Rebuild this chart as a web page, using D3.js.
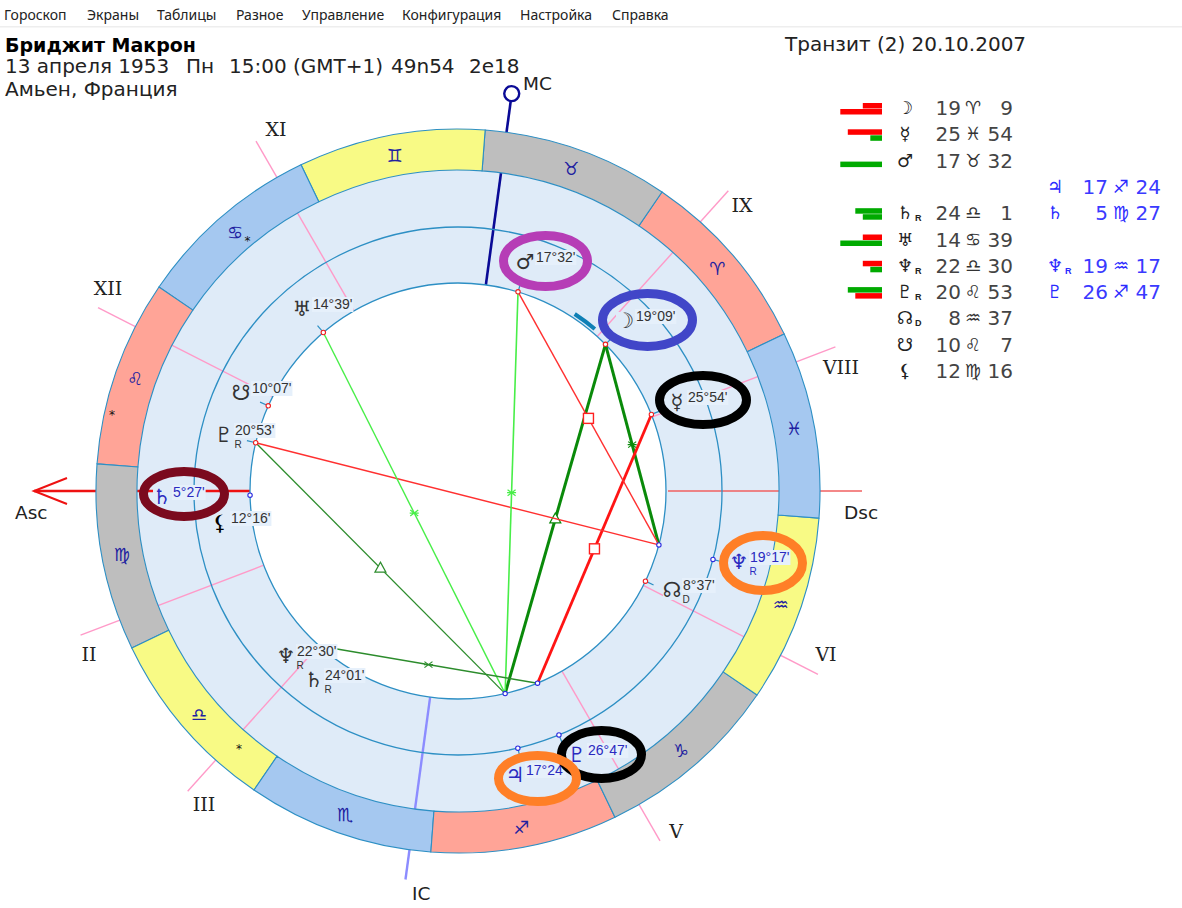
<!DOCTYPE html>
<html><head><meta charset="utf-8">
<style>html,body{margin:0;padding:0;background:#fff}svg{display:block}text{font-family:"DejaVu Sans";white-space:pre}</style>
<script src="https://cdn.jsdelivr.net/npm/d3@7"></script></head><body>
<svg id="c" width="1182" height="908"></svg>
<script>
// ---------- data ----------
const menuItems=["Гороскоп","Экраны","Таблицы","Разное","Управление","Конфигурация","Настройка","Справка"];
const titleName="Бриджит Макрон";
const titleBirthParts=["13 апреля 1953","Пн","15:00 (GMT+1)","49n54","2e18"];
const titlePlace="Амьен, Франция";
const titleTransit="Транзит (2) 20.10.2007";
const ascLon=154.3;
const signGlyphs=["♈","♉","♊","♋","♌","♍","♎","♏","♐","♑","♒","♓"];
const signElements=["fire","earth","air","water","fire","earth","air","water","fire","earth","air","water"];
const signStarLons=[104.1,141.4,203.6];
const cuspNames=["VIII","IX","XI","XII","II","III","V","VI"];
const cuspLons=[355.2,22.3,94.3,127.3,175.2,202.3,274.3,307.3];
const mcLon=56.6, icLon=236.6, dscLon=334.3;
const natalIds=["moon","mercury","mars","saturn","uranus","neptune","pluto","node","snode","lilith"];
const natalLons=[19.15,355.9,47.53,204.02,104.65,202.5,140.88,308.62,130.12,162.27];
const natalLabels=["19°09'","25°54'","17°32'","24°01'","14°39'","22°30'","20°53'","8°37'","10°07'","12°16'"];
const transitIds=["jupiter","saturn","neptune","pluto"];
const transitLons=[257.4,155.45,319.28,266.78];
const transitLabels=["17°24'","5°27'","19°17'","26°47'"];
const aspectFrom=["moon","moon","mercury","mars","pluto","pluto","uranus","mars","neptune"];
const aspectTo=["jupiter","neptune","pluto","neptune","neptune","jupiter","jupiter","jupiter","pluto"];
const aspectKind=["trineStrong","sextileStrong","squareStrong","square","opposition","trine","sextileLight","sextileLightStar","sextile"];
const tableGlyphs=["☽","☿","♂","","♄","♅","♆","♇","☊","☋","⚸"];
const tableFlags=["","","","","R","","R","R","D","",""];
const tableDeg=[19,25,17,null,24,14,22,20,8,10,12];
const tableSign=[0,11,1,null,6,3,6,4,10,4,5];
const tableMin=[9,54,32,null,1,39,30,53,37,7,16];
const tGlyphs=["","","","♃","♄","","♆","♇","","",""];
const tFlags=["","","","","","","R","","","",""];
const tDeg=[null,null,null,17,5,null,19,26,null,null,null];
const tSign=[null,null,null,8,5,null,10,8,null,null,null];
const tMin=[null,null,null,24,27,null,17,47,null,null,null];
const barTop=[["r",2],["r",4],null,null,["g",3],["r",2],["r",2],["g",4]];
const barBottom=[["r",5],["g",1],["g",5],null,["g",2],["g",5],["g",1],["r",3]];
const shadedArcLons=[24.1,30.9];

// ---------- layout / style ----------
const cx=458,cy=491;
const rInner=208,rMid=264,rRing=321,rOuter=362;
const svg=d3.select("#c");
const blue="#2D8FC4";
const ringFill="#DFEBF8";
const elementColor={fire:"#FFA497",earth:"#BEBEBE",air:"#F8FA85",water:"#A5C8F0"};
const toAngle=d3.scaleLinear().domain([0,360]).range([(ascLon-90)*Math.PI/180,(ascLon-90-360)*Math.PI/180]);
const pt=(lon,r)=>{const p=d3.pointRadial(toAngle(lon),r);return [cx+p[0],cy+p[1]];};
const chart=svg.append("g");

// menu
svg.append("rect").attr("x",0).attr("y",26).attr("width",1182).attr("height",1.5).attr("fill","#eee");
const menuX=[4,87,157,236,302,402,520,612];
svg.selectAll(".m").data(menuItems).join("text").attr("x",(d,i)=>menuX[i]).attr("y",20)
 .style("font-family","'Noto Sans'").attr("font-size",14).attr("fill","#222").text(d=>d);

// ring background
const arc=d3.arc();
chart.append("circle").attr("cx",cx).attr("cy",cy).attr("r",rRing).attr("fill",ringFill);
chart.append("circle").attr("cx",cx).attr("cy",cy).attr("r",rInner).attr("fill","#fff");

// house cusps
cuspLons.forEach(l=>{const a=pt(l,rInner),b=pt(l,404);
 chart.append("line").attr("x1",a[0]).attr("y1",a[1]).attr("x2",b[0]).attr("y2",b[1]).attr("stroke","#FF9AC8").attr("stroke-width",1.4);});
const axis=(l,r0,r1,col,w)=>{const a=pt(l,r0),b=pt(l,r1);
 chart.append("line").attr("x1",a[0]).attr("y1",a[1]).attr("x2",b[0]).attr("y2",b[1]).attr("stroke",col).attr("stroke-width",w);};
axis(mcLon,rInner,396,"#0A0A96",2.6);
axis(icLon,rInner,392,"#8C8CFF",2.4);
axis(ascLon,rInner,424,"#EE1111",2.6);
axis(dscLon,rInner+2,404,"#F06060",1.4);

// sign sectors
const signG=chart.append("g").attr("transform",`translate(${cx},${cy})`);
signGlyphs.forEach((g,i)=>{
 const a0=toAngle(i*30),a1=toAngle((i+1)*30);
 signG.append("path").attr("d",arc({innerRadius:rRing,outerRadius:rOuter,startAngle:a1,endAngle:a0}))
  .attr("fill",elementColor[signElements[i]]).attr("stroke",blue).attr("stroke-width",1.1);
});
// circles
[rInner,rMid].forEach(r=>chart.append("circle").attr("cx",cx).attr("cy",cy).attr("r",r).attr("fill","none").attr("stroke",blue).attr("stroke-width",1.3));
signGlyphs.forEach((g,i)=>{const p=pt(i*30+15,342);
 chart.append("text").attr("x",p[0]).attr("y",p[1]+7).attr("text-anchor","middle").attr("font-size",18).attr("fill","#2020A0").text(g);});
const starRadii=[329,355,336];
signStarLons.forEach((l,i)=>{const p=pt(l,starRadii[i]);
 chart.append("text").attr("x",p[0]).attr("y",p[1]+7).attr("text-anchor","middle").attr("font-size",12).attr("fill","#111").text("*");});
// shaded arc at the inner circle
signG.append("path").attr("d",arc({innerRadius:rInner+2,outerRadius:rInner+6,startAngle:toAngle(shadedArcLons[1]),endAngle:toAngle(shadedArcLons[0])})).attr("fill","#0E7FB5");

// markers at axes
const mc=pt(mcLon,401);
chart.append("circle").attr("cx",mc[0]).attr("cy",mc[1]).attr("r",7.5).attr("fill","#fff").attr("stroke","#0A0A96").attr("stroke-width",2.4);
const asc=pt(ascLon,424);
chart.append("path").attr("d",`M${asc[0]+33},${asc[1]-13}L${asc[0]},${asc[1]}L${asc[0]+33},${asc[1]+13}`).attr("fill","none").attr("stroke","#EE1111").attr("stroke-width",2);

// aspects
const natalPos=Object.fromEntries(natalIds.map((id,i)=>[id,pt(natalLons[i],rInner)]));
const transitPos=Object.fromEntries(transitIds.map((id,i)=>[id,pt(transitLons[i],rInner)]));
const kinds={
 trineStrong:{c:"#0A8A0A",w:3,m:"tri"},sextileStrong:{c:"#0A8A0A",w:3,m:"x"},
 squareStrong:{c:"#FF1414",w:2.8,m:"sq"},square:{c:"#FF3030",w:1.4,m:"sq"},
 opposition:{c:"#FF3030",w:1.4,m:null},trine:{c:"#2C8C2C",w:1.3,m:"tri"},
 sextile:{c:"#2C8C2C",w:1.4,m:"x"},sextileLight:{c:"#48EE48",w:1.4,m:"x"},sextileLightStar:{c:"#48EE48",w:1.6,m:"x"}};
aspectFrom.forEach((f,i)=>{
 const a=natalPos[f],b=transitPos[aspectTo[i]],k=kinds[aspectKind[i]];
 chart.append("line").attr("x1",a[0]).attr("y1",a[1]).attr("x2",b[0]).attr("y2",b[1]).attr("stroke",k.c).attr("stroke-width",k.w);
 const mx=(a[0]+b[0])/2,my=(a[1]+b[1])/2;
 if(k.m==="sq")chart.append("rect").attr("x",mx-5).attr("y",my-5).attr("width",10).attr("height",10).attr("fill","#fff").attr("stroke","#FF2020").attr("stroke-width",1.4);
 if(k.m==="tri")chart.append("path").attr("d",`M${mx},${my-6}L${mx+5.5},${my+4}L${mx-5.5},${my+4}Z`).attr("fill","#fff").attr("stroke",k.c).attr("stroke-width",1.2);
 if(k.m==="x")chart.append("path").attr("d",`M${mx-4},${my-3}L${mx+4},${my+3}M${mx-4},${my+3}L${mx+4},${my-3}M${mx-4.5},${my}L${mx+4.5},${my}`).attr("fill","none").attr("stroke",k.c).attr("stroke-width",1.2);
});

// planet labels
const glyphOf={moon:"☽",mercury:"☿",mars:"♂",saturn:"♄",uranus:"♅",neptune:"♆",pluto:"♇",node:"☊",snode:"☋",lilith:"⚸",jupiter:"♃"};
const natalSpots={moon:[636,321],mercury:[688,402],mars:[536,262],saturn:[325,680],uranus:[313,309],neptune:[297,656],pluto:[235,435],node:[683,590],snode:[252,393],lilith:[231,523]};
const natalFlag={neptune:"R",saturn:"R",pluto:"R",node:"D"};
const transitSpots={jupiter:[526,775],saturn:[173,497],neptune:[750,562],pluto:[588,755]};
const transitFlag={neptune:"R"};
const labelLayer=chart.append("g");
function placeLabel(id,lab,spot,flag,col,r0,lon){
 const m=pt(lon,r0),n=pt(lon,r0+9);
 labelLayer.append("line").attr("x1",m[0]).attr("y1",m[1]).attr("x2",n[0]).attr("y2",n[1]).attr("stroke",blue).attr("stroke-width",1.2);
 labelLayer.append("rect").attr("x",spot[0]-20).attr("y",spot[1]-9).attr("width",20).attr("height",19).attr("fill",ringFill);
 const r=labelLayer.append("rect");
 const t=labelLayer.append("text").attr("x",spot[0]).attr("y",spot[1]).style("font-family","'Liberation Sans'").attr("font-size",14).attr("fill",col).text(lab);
 const bb=t.node().getBBox();
 r.attr("x",bb.x-1).attr("y",bb.y+1).attr("width",bb.width+2).attr("height",bb.height-1).attr("fill","#E6F0FB");
 labelLayer.append("text").attr("x",spot[0]-11).attr("y",spot[1]+7).attr("text-anchor","middle").attr("font-size",21)
  .attr("font-weight",id==="lilith"?"bold":"normal").attr("fill",id==="lilith"?"#000":col).text(glyphOf[id]);
 if(flag)labelLayer.append("text").attr("x",spot[0]+3).attr("y",spot[1]+13).attr("text-anchor","middle").style("font-family","'Liberation Sans'").attr("font-size",10).attr("fill",col).text(flag);
}
natalIds.forEach((id,i)=>placeLabel(id,natalLabels[i],natalSpots[id],natalFlag[id],"#333",rInner,natalLons[i]));
transitIds.forEach((id,i)=>placeLabel(id,transitLabels[i],transitSpots[id],transitFlag[id],"#2A2AC0",rMid,transitLons[i]));
const dot=(p,c)=>labelLayer.append("circle").attr("cx",p[0]).attr("cy",p[1]).attr("r",2.2).attr("fill","#fff").attr("stroke",c).attr("stroke-width",1.1);
natalIds.forEach((id,i)=>{if(id!=="lilith"&&id!=="neptune"&&id!=="saturn")dot(natalPos[id],"#F02020");});
transitIds.forEach((id,i)=>{dot(transitPos[id],"#2A2AE0");if(id!=="saturn")dot(pt(transitLons[i],rMid),"#2A2AE0");});

// axis and house names
const romans=[["XI",276,136],["IX",742,212],["XII",108,295],["VIII",841,374],["II",89,661],["VI",826,661],["III",204,811],["V",676,838]];
svg.selectAll(".r").data(romans).join("text").attr("x",d=>d[1]).attr("y",d=>d[2]).attr("text-anchor","middle")
 .style("font-family","'DejaVu Serif'").attr("font-size",19).attr("fill","#222").text(d=>d[0]);
[["MC",523,90],["Asc",15,519],["Dsc",844,519],["IC",412,900]].forEach(d=>svg.append("text").attr("x",d[1]).attr("y",d[2]).attr("font-size",18.5).attr("fill","#222").text(d[0]));

// header
svg.append("text").attr("x",5).attr("y",52).attr("font-weight","bold").attr("font-size",19).attr("fill","#000").text(titleName);
const birthX=[5,186,229,391,469];
svg.selectAll(".b").data(titleBirthParts).join("text").attr("x",(d,i)=>birthX[i]).attr("y",73).attr("font-size",20).attr("fill","#222").text(d=>d);
svg.append("text").attr("x",5).attr("y",96).attr("font-size",20).attr("fill","#222").text(titlePlace);
svg.append("text").attr("x",785).attr("y",51).attr("font-size",20).attr("fill","#222").text(titleTransit);

// table
const rowY=d3.scaleLinear().domain([0,10]).range([115,378]);
const barLen=d3.scaleLinear().domain([1,5]).range([11.7,41.7]);
const barColor={r:"#FF0000",g:"#00AA00"};
const barRight=882;
function bar(d,i,dy){if(!d)return;const w=barLen(d[1]);
 svg.append("rect").attr("x",barRight-w).attr("y",rowY(i)+dy).attr("width",w).attr("height",5.5).attr("fill",barColor[d[0]]);}
barTop.forEach((d,i)=>bar(d,i,-12));
barBottom.forEach((d,i)=>bar(d,i,-6));
function tableCol(gl,fl,deg,sign,min,col,x){
 gl.forEach((g,i)=>{ if(deg[i]===null)return; const y=rowY(i);
  svg.append("text").attr("x",x[0]).attr("y",y-1).attr("text-anchor","middle").attr("font-size",18).attr("fill",col===0?"#222":"#2A2AFF").text(g);
  if(fl[i])svg.append("text").attr("x",x[0]+10).attr("y",y+1).style("font-family","'Liberation Sans'").attr("font-size",9).attr("font-weight","bold").attr("fill",col===0?"#222":"#2A2AFF").text(fl[i]);
  const c=col===0?"#444":"#3A3AFF";
  svg.append("text").attr("x",x[1]).attr("y",y).attr("text-anchor","end").attr("font-size",20).attr("fill",c).text(deg[i]);
  svg.append("text").attr("x",x[2]).attr("y",y-1).attr("text-anchor","middle").attr("font-size",18).attr("fill",col===0?"#333":"#2A2AFF").text(signGlyphs[sign[i]]);
  svg.append("text").attr("x",x[3]).attr("y",y).attr("text-anchor","end").attr("font-size",20).attr("fill",c).text(min[i]);
 });
}
tableCol(tableGlyphs,tableFlags,tableDeg,tableSign,tableMin,0,[905,961,973,1013]);
tableCol(tGlyphs,tFlags,tDeg,tSign,tMin,1,[1055,1108,1121,1161]);

// highlight ovals
const ovals=[[545.5,261,42,25.5,"#B63DB6"],[647.5,320,45,26.5,"#4146C8"],[703,400,43.5,24.5,"#000"],[184,494,40.5,22.5,"#7B0A1E"],[763,563,39.5,27.5,"#FF7F27"],[601.5,754.5,40,24,"#000"],[537.5,778.5,39,23,"#FF7F27"]];
svg.selectAll(".o").data(ovals).join("ellipse").attr("cx",d=>d[0]).attr("cy",d=>d[1]).attr("rx",d=>d[2]).attr("ry",d=>d[3])
 .attr("fill","none").attr("stroke",d=>d[4]).attr("stroke-width",9);
</script></body></html>
